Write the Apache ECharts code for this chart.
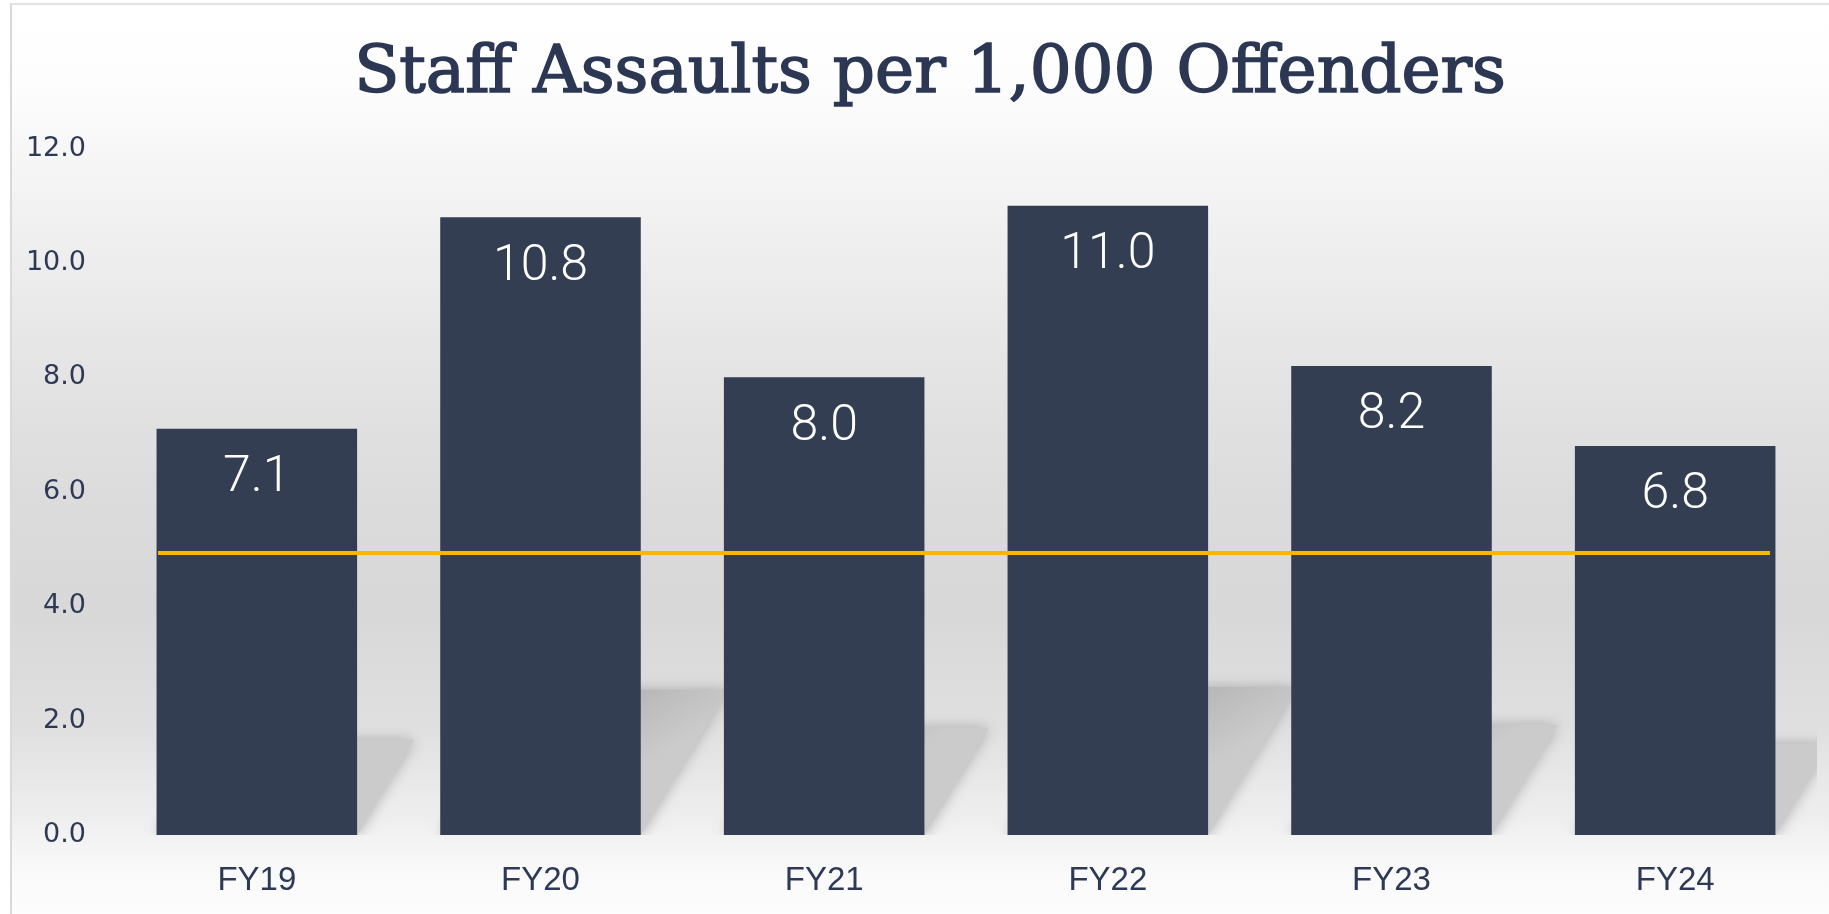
<!DOCTYPE html>
<html>
<head>
<meta charset="utf-8">
<script src="https://cdn.jsdelivr.net/npm/echarts@6/dist/echarts.min.js"></script>
<style>
  html, body { margin: 0; padding: 0; background: #ffffff; }
  #chart {
    position: absolute;
    left: 10px;
    top: 3px;
    width: 1817px;
    height: 909px;
    border-left: 2px solid #d9d9d9;
    border-top: 2px solid #e2e2e2;
  }
</style>
</head>
<body>
<div id="chart"></div>
<script>
const categories = ['FY19', 'FY20', 'FY21', 'FY22', 'FY23', 'FY24'];
const assaultRates = [7.1, 10.8, 8.0, 11.0, 8.2, 6.8];
const targetRate = 4.93;
const yTicks = [0, 2, 4, 6, 8, 10, 12];

const navy = '#343e52';
const textColor = '#2e3a55';

const chart = echarts.init(document.getElementById('chart'));

// soft floor shadow behind each bar, sized from the bar's value
function renderShadow(params, api) {
  const idx = api.value(0);
  const v = api.value(1);
  const base = api.coord([idx, 0]);
  const top = api.coord([idx, v]);
  const band = api.size([1, 0])[0];
  const w = band * 0.707;
  const h = (base[1] - top[1]) * 0.235;
  const dx = h * 0.6;
  const xL = base[0] - w / 2;
  const xR = base[0] + w / 2;
  const y0 = base[1];
  return {
    type: 'polygon',
    shape: {
      points: [[xL, y0], [xR, y0], [xR + dx, y0 - h], [xL + dx, y0 - h]]
    },
    style: {
      fill: {
        type: 'linear', x: 0, y: 0, x2: 0.3, y2: 1,
        colorStops: [
          {offset: 0, color: '#acacac'},
          {offset: 0.55, color: '#b5b5b5'},
          {offset: 1, color: '#cbcbcb'}
        ]
      },
      shadowBlur: 14,
      shadowColor: 'rgba(165,165,165,0.9)'
    }
  };
}

const option = {
  backgroundColor: {
    type: 'linear', x: 0, y: 0, x2: 0, y2: 1,
    colorStops: [
      {offset: 0, color: '#ffffff'},
      {offset: 0.09, color: '#fdfdfd'},
      {offset: 0.155, color: '#f7f7f7'},
      {offset: 0.405, color: '#e4e4e4'},
      {offset: 0.534, color: '#dcdcdc'},
      {offset: 0.662, color: '#d8d8d8'},
      {offset: 0.79, color: '#dfdfdf'},
      {offset: 0.893, color: '#eeeeee'},
      {offset: 0.944, color: '#f8f8f8'},
      {offset: 1, color: '#fdfdfd'}
    ]
  },
  animation: false,
  title: {
    text: 'Staff Assaults per 1,000 Offenders',
    left: 913,
    top: 32,
    textAlign: 'center',
    textStyle: {
      fontFamily: 'DejaVu Serif',
      fontSize: 66,
      fontWeight: 'normal',
      color: '#2c3853',
      textBorderColor: '#2c3853',
      textBorderWidth: 1.6
    }
  },
  grid: [
    {left: 103, right: 12, top: 143.5, bottom: 79},
    {left: 146, right: 59, top: 143.5, bottom: 79}
  ],
  xAxis: [
    {
      type: 'category',
      data: categories,
      axisLine: {show: false},
      axisTick: {show: false},
      axisLabel: {
        color: textColor,
        fontFamily: 'Liberation Sans',
        fontSize: 33,
        margin: 29
      }
    },
    {
      type: 'category',
      gridIndex: 1,
      data: ['start', 'end'],
      boundaryGap: false,
      show: false
    }
  ],
  yAxis: [
    {
      type: 'value',
      min: yTicks[0],
      max: yTicks[yTicks.length - 1],
      interval: 2,
      splitLine: {show: false},
      axisLine: {show: false},
      axisTick: {show: false},
      axisLabel: {
        color: textColor,
        fontFamily: 'DejaVu Sans',
        fontSize: 27,
        margin: 29,
        formatter: (v) => v.toFixed(1)
      }
    },
    {
      type: 'value',
      gridIndex: 1,
      min: yTicks[0],
      max: yTicks[yTicks.length - 1],
      show: false
    }
  ],
  series: [
    {
      type: 'custom',
      renderItem: renderShadow,
      clip: true,
      silent: true,
      data: assaultRates.map((v, i) => [i, v]),
      z: 1
    },
    {
      type: 'bar',
      data: assaultRates,
      barCategoryGap: '29.3%',
      itemStyle: {color: navy},
      label: {
        show: true,
        position: 'insideTop',
        distance: 25,
        color: '#ffffff',
        fontFamily: 'Roboto',
        fontWeight: 300,
        fontSize: 50,
        formatter: (p) => p.value.toFixed(1)
      },
      z: 2
    },
    {
      type: 'line',
      xAxisIndex: 1,
      yAxisIndex: 1,
      data: [targetRate, targetRate],
      showSymbol: false,
      lineStyle: {color: '#f5b800', width: 4},
      z: 3
    }
  ]
};

chart.setOption(option);
</script>
</body>
</html>
